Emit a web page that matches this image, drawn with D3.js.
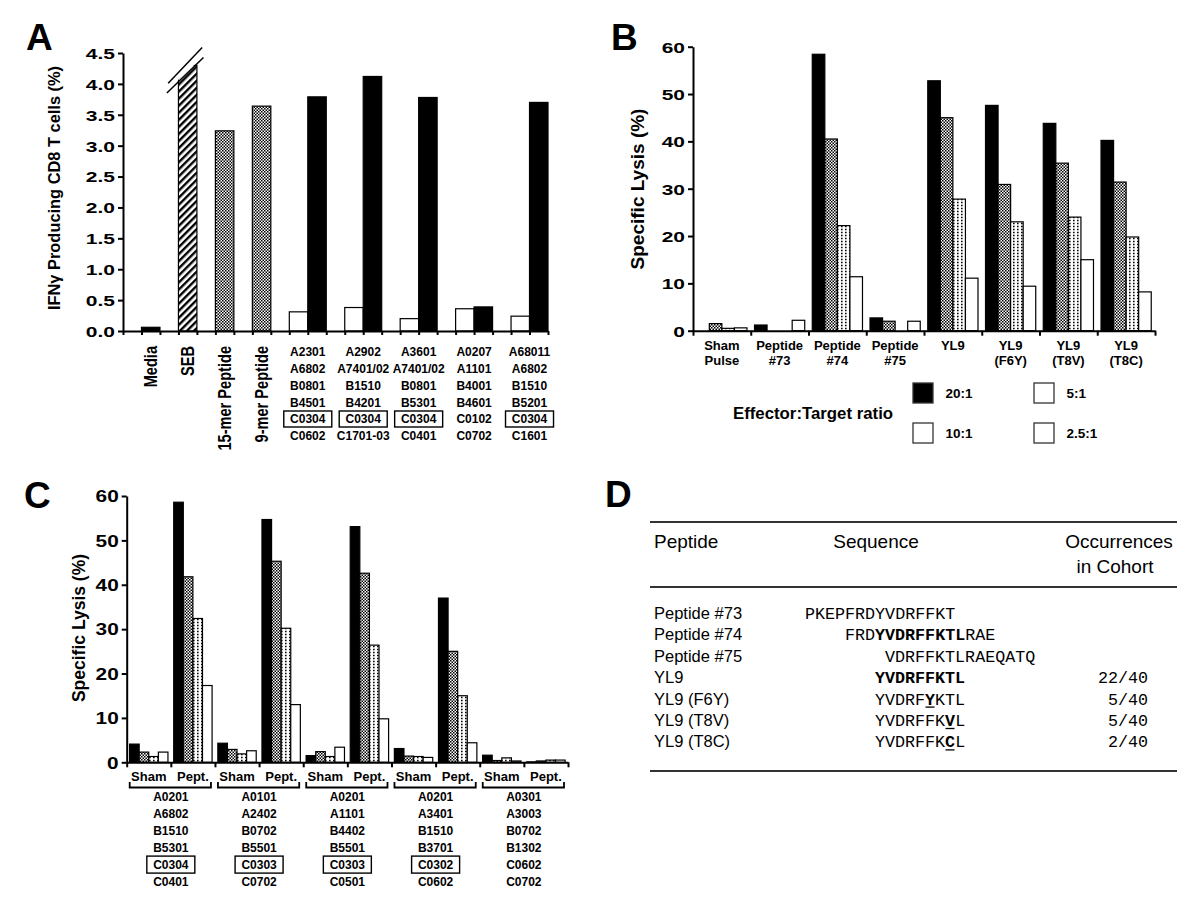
<!DOCTYPE html>
<html><head><meta charset="utf-8">
<script src="https://cdn.jsdelivr.net/npm/d3@7"></script>
<style>body{margin:0;background:#fff}</style>
</head><body>
<svg id="c" width="1200" height="905"></svg>
<script>
// ---------------- Panel A data ----------------
const aSingleCategories = ["Media", "SEB", "15-mer Peptide", "9-mer Peptide"];
const aSingleValues = [0.06, 4.3, 3.24, 3.64];
const aGroupWhite = [0.31, 0.38, 0.20, 0.36, 0.24];
const aGroupBlack = [3.79, 4.12, 3.78, 0.39, 3.70];
const aGroupHLA = [
  ["A2301", "A6802", "B0801", "B4501", "C0304", "C0602"],
  ["A2902", "A7401/02", "B1510", "B4201", "C0304", "C1701-03"],
  ["A3601", "A7401/02", "B0801", "B5301", "C0304", "C0401"],
  ["A0207", "A1101", "B4001", "B4601", "C0102", "C0702"],
  ["A68011", "A6802", "B1510", "B5201", "C0304", "C1601"]
];
const aGroupBoxed = [true, true, true, false, true];
const aYTicks = [0, 0.5, 1.0, 1.5, 2.0, 2.5, 3.0, 3.5, 4.0, 4.5];
const aYTitle = "IFNγ Producing CD8 T cells (%)";

// ---------------- Panel B data ----------------
const bCategories = [["Sham", "Pulse"], ["Peptide", "#73"], ["Peptide", "#74"], ["Peptide", "#75"],
  ["YL9"], ["YL9", "(F6Y)"], ["YL9", "(T8V)"], ["YL9", "(T8C)"]];
const bRatios = ["20:1", "10:1", "5:1", "2.5:1"];
const b20 = [0, 1.2, 58.4, 2.7, 52.8, 47.6, 43.8, 40.2];
const b10 = [1.5, 0, 40.5, 2.0, 45.0, 30.9, 35.4, 31.4];
const b5 = [0.5, 0, 22.2, 0, 27.8, 23.0, 24.0, 19.8];
const b25 = [0.6, 2.2, 11.4, 2.0, 11.1, 9.4, 15.0, 8.2];
const bYTicks = [0, 10, 20, 30, 40, 50, 60];
const bLegendTitle = "Effector:Target ratio";

// ---------------- Panel C data ----------------
const cSubLabels = ["Sham", "Pept."];
const c20 = [4.1, 58.6, 4.3, 54.7, 1.5, 53.1, 3.1, 37.0, 1.6, 0.1];
const c10 = [2.3, 41.8, 2.9, 45.3, 2.4, 42.6, 1.4, 25.0, 0.4, 0.3];
const c5 = [1.3, 32.4, 1.9, 30.2, 1.3, 26.4, 1.3, 15.0, 1.0, 0.5];
const c25 = [2.3, 17.3, 2.6, 13.0, 3.4, 9.8, 1.1, 4.4, 0.3, 0.5];
const cGroupHLA = [
  ["A0201", "A6802", "B1510", "B5301", "C0304", "C0401"],
  ["A0101", "A2402", "B0702", "B5501", "C0303", "C0702"],
  ["A0201", "A1101", "B4402", "B5501", "C0303", "C0501"],
  ["A0201", "A3401", "B1510", "B3701", "C0302", "C0602"],
  ["A0301", "A3003", "B0702", "B1302", "C0602", "C0702"]
];
const cGroupBoxed = [true, true, true, true, false];
const cYTicks = [0, 10, 20, 30, 40, 50, 60];

// ---------------- Panel D data ----------------
const dHeaders = ["Peptide", "Sequence", "Occurrences", "in Cohort"];
const dPeptides = ["Peptide #73", "Peptide #74", "Peptide #75", "YL9", "YL9 (F6Y)", "YL9 (T8V)", "YL9 (T8C)"];
const dSequences = ["PKEPFRDYVDRFFKT", "FRDYVDRFFKTLRAE", "VDRFFKTLRAEQATQ", "YVDRFFKTL", "YVDRFYKTL", "YVDRFFKVL", "YVDRFFKCL"];
const dOffsets = [0, 4, 8, 7, 7, 7, 7];
const dBold = [[], [3, 12], [], [0, 9], [5, 6], [7, 8], [7, 8]];
const dUnderline = [-1, -1, -1, -1, 5, 7, 7];
const dOccurrences = ["", "", "", "22/40", "5/40", "5/40", "2/40"];

// ---------------- styles ----------------
const FONT = '"Liberation Sans", Arial, Helvetica, sans-serif';
const MONO = '"Liberation Mono", "Courier New", monospace';
const aSingleStyles = ["black", "hatch", "check", "check"];
const seriesStyles = ["black", "check", "dots", "white"];
const legendStyles = ["black", "white", "white", "white"];

const svg = d3.select("#c");
svg.append("rect").attr("width", 1200).attr("height", 905).attr("fill", "#fff");
const defs = svg.append("defs");
{
  const p = defs.append("pattern").attr("id", "check").attr("patternUnits", "userSpaceOnUse").attr("width", 3).attr("height", 3);
  p.append("rect").attr("width", 3).attr("height", 3).attr("fill", "#fff");
  p.append("rect").attr("width", 1.5).attr("height", 1.5).attr("fill", "#000");
  p.append("rect").attr("x", 1.5).attr("y", 1.5).attr("width", 1.5).attr("height", 1.5).attr("fill", "#000");
  const q = defs.append("pattern").attr("id", "dots").attr("patternUnits", "userSpaceOnUse").attr("width", 4).attr("height", 3);
  q.append("rect").attr("width", 4).attr("height", 3).attr("fill", "#fff");
  q.append("rect").attr("x", 1).attr("y", 0.75).attr("width", 1.6).attr("height", 1.5).attr("fill", "#000");
  const h = defs.append("pattern").attr("id", "hatch").attr("patternUnits", "userSpaceOnUse").attr("width", 5).attr("height", 5).attr("patternTransform", "rotate(45)");
  h.append("rect").attr("width", 5).attr("height", 5).attr("fill", "#fff");
  h.append("rect").attr("width", 2.4).attr("height", 5).attr("fill", "#000");
}
const fillOf = s => ({ black: "#000", white: "#fff", check: "url(#check)", dots: "url(#dots)", hatch: "url(#hatch)" }[s]);

function yAxis(g, y, ticks, fmt, x0, fs, stretch) {
  const ga = g.append("g").attr("transform", `translate(${x0},0)`)
    .call(d3.axisLeft(y).tickValues(ticks).tickFormat(fmt).tickSize(5).tickSizeOuter(0));
  ga.attr("font-family", FONT).attr("font-size", fs).attr("font-weight", "bold");
  ga.select(".domain").attr("stroke", "#000").attr("stroke-width", 2);
  ga.selectAll(".tick line").attr("stroke", "#000").attr("stroke-width", 2);
  ga.selectAll(".tick text").attr("fill", "#000").attr("x", null).attr("dy", "0.36em")
    .attr("transform", `translate(-8,0) scale(${stretch},1)`);
}
function xAxis(g, x0, x1, n, y0, ts) {
  const lin = d3.scaleLinear().domain([0, n]).range([x0, x1]);
  const ga = g.append("g").attr("transform", `translate(0,${y0})`)
    .call(d3.axisBottom(lin).tickValues(d3.range(n + 1)).tickFormat("").tickSize(ts).tickSizeOuter(0));
  ga.select(".domain").attr("stroke", "#000").attr("stroke-width", 2);
  ga.selectAll(".tick line").attr("stroke", "#000").attr("stroke-width", 2);
}
function panelLetter(t, x, y) {
  svg.append("text").attr("x", x).attr("y", y).text(t).attr("font-family", FONT)
    .attr("font-size", 37).attr("font-weight", "bold").attr("fill", "#000");
}
function bars(g, data, x, y) {
  g.selectAll(null).data(data.filter(d => d.v > 0)).join("rect")
    .attr("x", d => d.x).attr("y", d => y(d.v)).attr("width", d => d.w)
    .attr("height", d => y(0) - y(d.v)).attr("fill", d => fillOf(d.s))
    .attr("stroke", "#000").attr("stroke-width", 1.2);
}

// =============== PANEL A ===============
{
  const g = svg.append("g");
  const nSlots = 23;
  const xA = d3.scaleBand().domain(d3.range(nSlots)).range([123, 548]);
  const yA = d3.scaleLinear().domain([0, 4.5]).range([331, 53]);
  const bw = xA.bandwidth();
  const data = [
    ...aSingleValues.map((v, i) => ({ x: xA(1 + 2 * i), w: bw, v, s: aSingleStyles[i] })),
    ...aGroupWhite.map((v, k) => ({ x: xA(9 + 3 * k), w: bw, v, s: "white" })),
    ...aGroupBlack.map((v, k) => ({ x: xA(10 + 3 * k), w: bw, v, s: "black" }))
  ];
  bars(g, data, xA, yA);
  // axis break on SEB bar
  const cx = xA(3) + bw / 2 - 2.5;
  const y1 = yA(4.30), y2 = yA(4.14);
  g.append("polygon").attr("points", [[cx - 21, y2 + 17.7], [cx + 17, y2 - 17.7], [cx + 17, 30], [cx - 21, 30]].join(" "))
    .attr("fill", "#fff");
  g.append("line").attr("x1", cx - 17).attr("y1", y1 + 17.8).attr("x2", cx + 17).attr("y2", y1 - 17.8).attr("stroke", "#000").attr("stroke-width", 1.5);
  g.append("line").attr("x1", cx - 18.3).attr("y1", y2 + 17.7).attr("x2", cx + 18.3).attr("y2", y2 - 17.7).attr("stroke", "#000").attr("stroke-width", 1.5);

  yAxis(g, yA, aYTicks, d3.format(".1f"), 123, 15, 1.4);
  xAxis(g, 123, 548, nSlots, 331, 4);

  // rotated category labels
  aSingleCategories.forEach((c, i) => {
    g.append("text").text(c).attr("font-family", FONT).attr("font-size", 14.6).attr("font-weight", "bold")
      .attr("text-anchor", "end")
      .attr("transform", `translate(${xA(1 + 2 * i) + bw / 2 + 6},346) scale(1.2,1) rotate(-90)`);
  });
  // HLA labels
  aGroupHLA.forEach((rows, k) => {
    const gx = xA(10 + 3 * k);
    rows.forEach((r, j) => {
      g.append("text").text(r).attr("x", gx).attr("y", 352 + 16.75 * j + 4.3)
        .attr("text-anchor", "middle").attr("font-family", FONT).attr("font-size", 12).attr("font-weight", "bold");
    });
    if (aGroupBoxed[k]) {
      g.append("rect").attr("x", gx - 24).attr("y", 352 + 16.75 * 4 - 8).attr("width", 48).attr("height", 16)
        .attr("fill", "none").attr("stroke", "#000").attr("stroke-width", 1.4);
    }
  });
  g.append("text").text(aYTitle).attr("font-family", FONT).attr("font-size", 16.4).attr("font-weight", "bold")
    .attr("text-anchor", "middle").attr("transform", "translate(60,188) rotate(-90)");
  panelLetter("A", 26, 50);
}

// =============== PANEL B ===============
{
  const g = svg.append("g");
  const xB = d3.scaleBand().domain(d3.range(bCategories.length)).range([693, 1155]);
  const xBi = d3.scaleBand().domain(bRatios).range([0, xB.bandwidth()]).paddingOuter(0.3);
  const yB = d3.scaleLinear().domain([0, 60]).range([330.7, 46.7]);
  const series = [b20, b10, b5, b25];
  const data = [];
  series.forEach((arr, si) => arr.forEach((v, ci) => data.push({ x: xB(ci) + xBi(bRatios[si]), w: xBi.bandwidth(), v, s: seriesStyles[si] })));
  bars(g, data, xB, yB);
  yAxis(g, yB, bYTicks, d3.format("d"), 693, 15.5, 1.35);
  xAxis(g, 693, 1155, bCategories.length, 330.7, 5);
  bCategories.forEach((lines, ci) => {
    lines.forEach((t, li) => {
      g.append("text").text(t).attr("x", xB(ci) + xB.bandwidth() / 2).attr("y", 349.7 + 15 * li)
        .attr("text-anchor", "middle").attr("font-family", FONT).attr("font-size", 13).attr("font-weight", "bold");
    });
  });
  g.append("text").text("Specific Lysis (%)").attr("font-family", FONT).attr("font-size", 19).attr("font-weight", "bold")
    .attr("text-anchor", "middle").attr("transform", "translate(644,189) rotate(-90)");
  // legend
  g.append("text").text(bLegendTitle).attr("x", 733).attr("y", 419).attr("font-family", FONT)
    .attr("font-size", 16.8).attr("font-weight", "bold");
  bRatios.forEach((r, i) => {
    const col = Math.floor(i / 2), row = i % 2;
    const sx = 913 + 121 * col, sy = 383 + 40 * row;
    g.append("rect").attr("x", sx).attr("y", sy).attr("width", 20).attr("height", 20)
      .attr("fill", fillOf(legendStyles[i])).attr("stroke", "#333").attr("stroke-width", 1.3);
    g.append("text").text(r).attr("x", sx + 32.5).attr("y", sy + 15).attr("font-family", FONT)
      .attr("font-size", 13.5).attr("font-weight", "bold");
  });
  panelLetter("B", 611, 50);
}

// =============== PANEL C ===============
{
  const g = svg.append("g");
  const n = c20.length;
  const xC = d3.scaleBand().domain(d3.range(n)).range([126.7, 568]);
  const xCi = d3.scaleBand().domain(bRatios).range([0, xC.bandwidth()]).paddingOuter(0.3);
  const yC = d3.scaleLinear().domain([0, 60]).range([762.3, 496]);
  const series = [c20, c10, c5, c25];
  const data = [];
  series.forEach((arr, si) => arr.forEach((v, ci) => data.push({ x: xC(ci) + xCi(bRatios[si]), w: xCi.bandwidth(), v, s: seriesStyles[si] })));
  bars(g, data, xC, yC);
  yAxis(g, yC, cYTicks, d3.format("d"), 126.7, 16, 1.3);
  xAxis(g, 126.7, 568, n, 762.3, 5);
  d3.range(n).forEach(ci => {
    g.append("text").text(cSubLabels[ci % 2]).attr("x", xC(ci) + xC.bandwidth() / 2).attr("y", 780.5)
      .attr("text-anchor", "middle").attr("font-family", FONT).attr("font-size", 13).attr("font-weight", "bold");
  });
  cGroupHLA.forEach((rows, k) => {
    const x0 = xC(2 * k) + 3, x1 = xC(2 * k + 1) + xC.bandwidth() - 4;
    g.append("path").attr("d", `M${x0},782V787.5H${x1}V782`).attr("fill", "none").attr("stroke", "#000").attr("stroke-width", 1.8);
    const gx = xC(2 * k + 1);
    rows.forEach((r, j) => {
      g.append("text").text(r).attr("x", gx).attr("y", 797 + 16.9 * j + 4.3)
        .attr("text-anchor", "middle").attr("font-family", FONT).attr("font-size", 12).attr("font-weight", "bold");
    });
    if (cGroupBoxed[k]) {
      g.append("rect").attr("x", gx - 24).attr("y", 797 + 16.9 * 4 - 8.5).attr("width", 48).attr("height", 17)
        .attr("fill", "none").attr("stroke", "#000").attr("stroke-width", 1.4);
    }
  });
  g.append("text").text("Specific Lysis (%)").attr("font-family", FONT).attr("font-size", 17.5).attr("font-weight", "bold")
    .attr("text-anchor", "middle").attr("transform", "translate(85,628) rotate(-90)");
  panelLetter("C", 24, 508);
}

// =============== PANEL D ===============
{
  const g = svg.append("g");
  const xChar = d3.scaleLinear().domain([0, 1]).range([805, 815]);
  const yRow = d3.scaleLinear().domain([0, 1]).range([619, 640.4]);
  [522, 587, 771].forEach(y => g.append("line").attr("x1", 650).attr("x2", 1177).attr("y1", y).attr("y2", y)
    .attr("stroke", "#333").attr("stroke-width", 2));
  const hdr = (t, x, y, a) => g.append("text").text(t).attr("x", x).attr("y", y).attr("text-anchor", a)
    .attr("font-family", FONT).attr("font-size", 19);
  hdr(dHeaders[0], 654, 548, "start");
  hdr(dHeaders[1], 876, 548, "middle");
  hdr(dHeaders[2], 1119, 548, "middle");
  hdr(dHeaders[3], 1115, 573, "middle");
  dPeptides.forEach((p, i) => {
    const y = yRow(i);
    g.append("text").text(p).attr("x", 654).attr("y", y).attr("font-family", FONT).attr("font-size", 16.5);
    const seq = dSequences[i];
    const t = g.append("text").attr("x", xChar(dOffsets[i])).attr("y", y).attr("font-family", MONO)
      .attr("font-size", 16.7).attr("xml:space", "preserve");
    const [b0, b1] = dBold[i].length ? dBold[i] : [-1, -1];
    const runs = [];
    for (let c = 0; c < seq.length; c++) {
      const bold = c >= b0 && c < b1;
      const last = runs[runs.length - 1];
      if (last && last.bold === bold) last.s += seq[c];
      else runs.push({ s: seq[c], bold });
    }
    runs.forEach(r => t.append("tspan").text(r.s).attr("font-weight", r.bold ? "bold" : "normal"));
    if (dUnderline[i] >= 0) {
      const ux = xChar(dOffsets[i] + dUnderline[i]);
      g.append("line").attr("x1", ux + 0.5).attr("x2", ux + 9.5).attr("y1", y + 2.5).attr("y2", y + 2.5)
        .attr("stroke", "#000").attr("stroke-width", 1.3);
    }
    if (dOccurrences[i]) {
      g.append("text").text(dOccurrences[i]).attr("x", 1148).attr("y", y).attr("text-anchor", "end")
        .attr("font-family", MONO).attr("font-size", 16.7);
    }
  });
  panelLetter("D", 605, 507);
}
</script>
</body></html>
